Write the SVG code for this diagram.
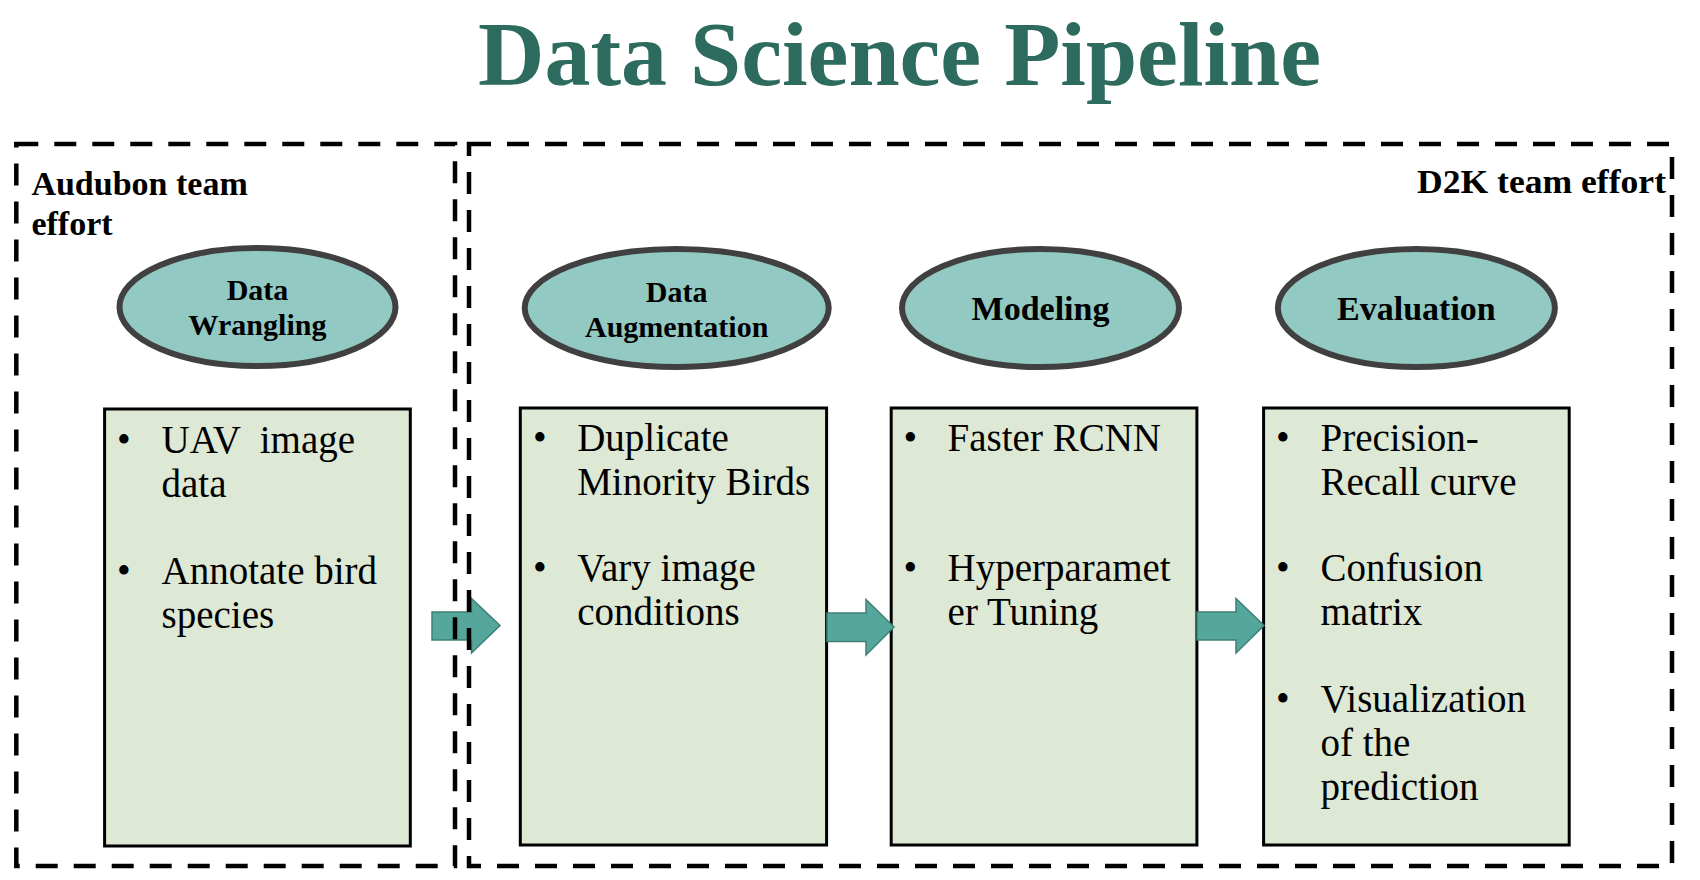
<svg xmlns="http://www.w3.org/2000/svg" width="1700" height="880" viewBox="0 0 1700 880">
<style>
.title{font-family:"Liberation Serif","DejaVu Serif",serif;font-weight:bold;font-size:92px;fill:#2c6b5d}
.team{font-family:"Liberation Serif","DejaVu Serif",serif;font-weight:bold;font-size:34px;fill:#000}
.stage{fill:#92c9c3;stroke:#404040;stroke-width:6}
.slabel{font-family:"Liberation Serif","DejaVu Serif",serif;font-weight:bold;fill:#000;text-anchor:middle}
.box{fill:#dde8d5;stroke:#000;stroke-width:3}
.item{font-family:"Liberation Serif","DejaVu Serif",serif;font-size:39px;fill:#000}
.dash{fill:none;stroke:#000;stroke-width:4.5;stroke-dasharray:22 16}
.arrow{fill:#55a69b;stroke:#3e8077;stroke-width:1.5}
</style>
<rect width="1700" height="880" fill="#fff"/>
<text class="title" x="478" y="85" textLength="843" lengthAdjust="spacingAndGlyphs">Data Science Pipeline</text>

<g id="stage-wrangling">
<ellipse class="stage" cx="257.5" cy="307" rx="138" ry="59"/>
<text class="slabel" x="257.5" y="300" font-size="30">Data</text>
<text class="slabel" x="257.5" y="335" font-size="30">Wrangling</text>
</g>
<g id="stage-augmentation">
<ellipse class="stage" cx="676.7" cy="308" rx="152" ry="59"/>
<text class="slabel" x="676.7" y="302" font-size="30">Data</text>
<text class="slabel" x="676.7" y="337" font-size="30">Augmentation</text>
</g>
<g id="stage-modeling">
<ellipse class="stage" cx="1040.5" cy="308" rx="138.5" ry="59"/>
<text class="slabel" x="1040.5" y="320" font-size="34">Modeling</text>
</g>
<g id="stage-evaluation">
<ellipse class="stage" cx="1416.4" cy="308" rx="138.5" ry="59"/>
<text class="slabel" x="1416.4" y="320" font-size="34">Evaluation</text>
</g>

<g id="box-wrangling">
<rect class="box" x="104.6" y="409" width="305.7" height="437"/>
<text class="item" x="117" y="453">•</text>
<text class="item" x="161.5" y="453" xml:space="preserve">UAV  image</text>
<text class="item" x="161.5" y="497">data</text>
<text class="item" x="117" y="584">•</text>
<text class="item" x="161.5" y="584">Annotate bird</text>
<text class="item" x="161.5" y="628">species</text>
</g>
<g id="box-augmentation">
<rect class="box" x="520.3" y="408" width="306.3" height="437"/>
<text class="item" x="533" y="451">•</text>
<text class="item" x="577.2" y="451">Duplicate</text>
<text class="item" x="577.2" y="495">Minority Birds</text>
<text class="item" x="533" y="581">•</text>
<text class="item" x="577.2" y="581">Vary image</text>
<text class="item" x="577.2" y="625">conditions</text>
</g>
<g id="box-modeling">
<rect class="box" x="891.2" y="408" width="305.7" height="437"/>
<text class="item" x="903.5" y="451">•</text>
<text class="item" x="947.6" y="451">Faster RCNN</text>
<text class="item" x="903.5" y="581">•</text>
<text class="item" x="947.6" y="581">Hyperparamet</text>
<text class="item" x="947.6" y="625">er Tuning</text>
</g>
<g id="box-evaluation">
<rect class="box" x="1263.6" y="408" width="305.6" height="437"/>
<text class="item" x="1276" y="451">•</text>
<text class="item" x="1320.5" y="451">Precision-</text>
<text class="item" x="1320.5" y="495">Recall curve</text>
<text class="item" x="1276" y="581">•</text>
<text class="item" x="1320.5" y="581">Confusion</text>
<text class="item" x="1320.5" y="625">matrix</text>
<text class="item" x="1276" y="712">•</text>
<text class="item" x="1320.5" y="712">Visualization</text>
<text class="item" x="1320.5" y="756">of the</text>
<text class="item" x="1320.5" y="800">prediction</text>
</g>

<g id="connectors">
<polygon class="arrow" points="432,612 471.5,612 471.5,598.5 500,625.5 471.5,653 471.5,640 432,640"/>
<polygon class="arrow" points="827,613 866,613 866,599.5 894,627 866,655 866,641.5 827,641.5"/>
<polygon class="arrow" points="1197,612 1236,612 1236,598.5 1264,625.5 1236,653 1236,640 1197,640"/>
</g>

<g id="group-audubon">
<rect class="dash" x="16.3" y="144" width="438.7" height="722"/>
<text class="team" x="31.4" y="195">Audubon team</text>
<text class="team" x="31.4" y="235">effort</text>
</g>
<g id="group-d2k">
<rect class="dash" x="469" y="144" width="1203" height="722"/>
<text class="team" x="1417" y="193" font-size="35" textLength="249" lengthAdjust="spacingAndGlyphs">D2K team effort</text>
</g>
</svg>
